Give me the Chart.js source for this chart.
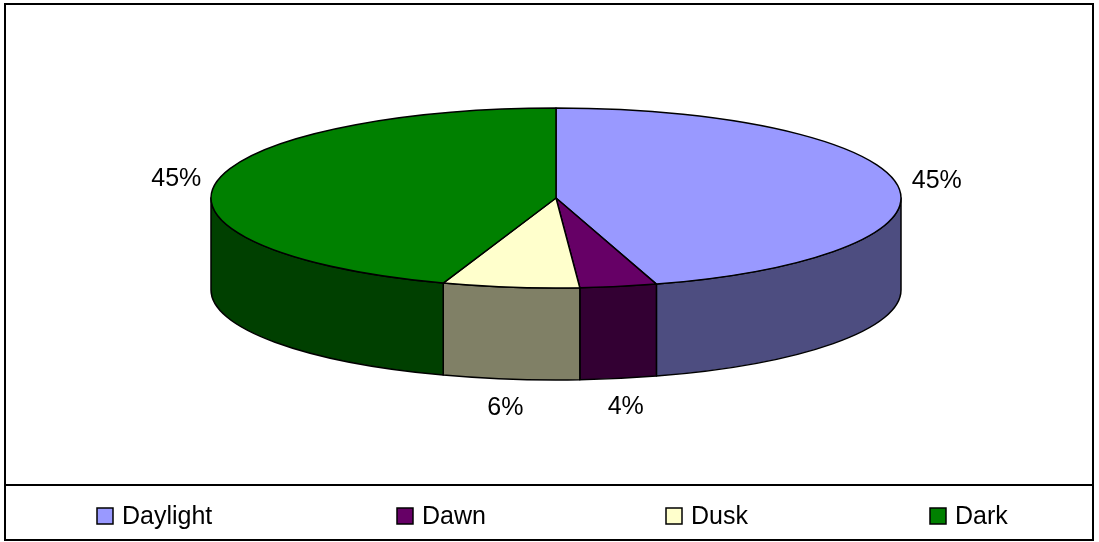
<!DOCTYPE html>
<html>
<head>
<meta charset="utf-8">
<script src="https://cdn.jsdelivr.net/npm/chart.js@4/dist/chart.umd.min.js"></script>
<style>
    body { margin: 0; background: #fff; }
    canvas { display: block; }
</style>
</head>
<body>
<canvas id="pieChart" width="1099" height="542"></canvas>
<script>
const labels = ['Daylight', 'Dawn', 'Dusk', 'Dark'];
const values = [45.3, 3.6, 6.4, 44.7];
const topColors = ['#9999FF', '#660066', '#FFFFCC', '#008000'];
const sideColors = ['#4D4D80', '#330033', '#808066', '#004000'];

const depth = 92;
const fontFamily = '"Liberation Sans", Arial, sans-serif';

// Helper: ellipse geometry from the pie layout done by Chart.js
function pieGeometry(chart) {
    const arcs = chart.getDatasetMeta(0).data;
    const area = chart.chartArea;
    const ry = arcs[0].outerRadius;
    return {
        arcs: arcs,
        cx: arcs[0].x,
        cy: arcs[0].y,
        ry: ry,
        rx: ry * area.width / area.height
    };
}

// Draws the pie as a flattened disc with a front wall
const pie3d = {
    id: 'pie3d',
    beforeDatasetsDraw(chart) {
        const ctx = chart.ctx;
        const g = pieGeometry(chart);
        ctx.save();
        ctx.lineWidth = 1.5;
        ctx.strokeStyle = '#000';
        ctx.lineJoin = 'round';

        // front walls
        g.arcs.forEach((arc, i) => {
            const a = Math.max(arc.startAngle, 0);
            const b = Math.min(arc.endAngle, Math.PI);
            if (b <= a) return;
            ctx.beginPath();
            ctx.ellipse(g.cx, g.cy, g.rx, g.ry, 0, a, b);
            ctx.ellipse(g.cx, g.cy + depth, g.rx, g.ry, 0, b, a, true);
            ctx.closePath();
            ctx.fillStyle = sideColors[i];
            ctx.fill();
            ctx.stroke();
        });

        // top face
        g.arcs.forEach((arc, i) => {
            ctx.beginPath();
            ctx.moveTo(g.cx, g.cy);
            ctx.ellipse(g.cx, g.cy, g.rx, g.ry, 0, arc.startAngle, arc.endAngle);
            ctx.closePath();
            ctx.fillStyle = topColors[i];
            ctx.fill();
            ctx.stroke();
        });
        ctx.restore();
        return false;
    },
    afterDraw(chart) {
        const ctx = chart.ctx;
        const g = pieGeometry(chart);
        const total = values.reduce((a, b) => a + b, 0);

        ctx.save();
        // percentage labels
        ctx.font = '25px ' + fontFamily;
        ctx.fillStyle = '#000';
        ctx.textAlign = 'center';
        ctx.textBaseline = 'middle';
        g.arcs.forEach((arc, i) => {
            const t = (arc.startAngle + arc.endAngle) / 2;
            const x = g.cx + (g.rx + 40) * Math.cos(t);
            let y = g.cy + (g.ry + 25) * Math.sin(t);
            if (Math.sin(t) > 0) y += depth + 4;
            ctx.fillText(Math.round(values[i] / total * 100) + '%', x, y);
        });

        // outer frame and legend box
        ctx.strokeStyle = '#000';
        ctx.lineWidth = 2;
        ctx.strokeRect(5, 4, 1088, 536);
        ctx.beginPath();
        ctx.moveTo(5, 485);
        ctx.lineTo(1093, 485);
        ctx.stroke();

        // legend items
        const itemX = [97, 397, 666, 930];
        ctx.textAlign = 'left';
        ctx.lineWidth = 1.5;
        labels.forEach((label, i) => {
            ctx.fillStyle = topColors[i];
            ctx.fillRect(itemX[i], 508, 16, 16);
            ctx.strokeRect(itemX[i], 508, 16, 16);
            ctx.fillStyle = '#000';
            ctx.fillText(label, itemX[i] + 25, 517);
        });
        ctx.restore();
    }
};

new Chart(document.getElementById('pieChart'), {
    type: 'pie',
    data: {
        labels: labels,
        datasets: [{
            data: values,
            backgroundColor: topColors,
            borderWidth: 0
        }]
    },
    options: {
        responsive: false,
        animation: false,
        layout: {
            padding: { left: 211, right: 198, top: 108, bottom: 254 }
        },
        plugins: {
            legend: { display: false },
            tooltip: { enabled: false }
        }
    },
    plugins: [pie3d]
});
</script>
</body>
</html>
